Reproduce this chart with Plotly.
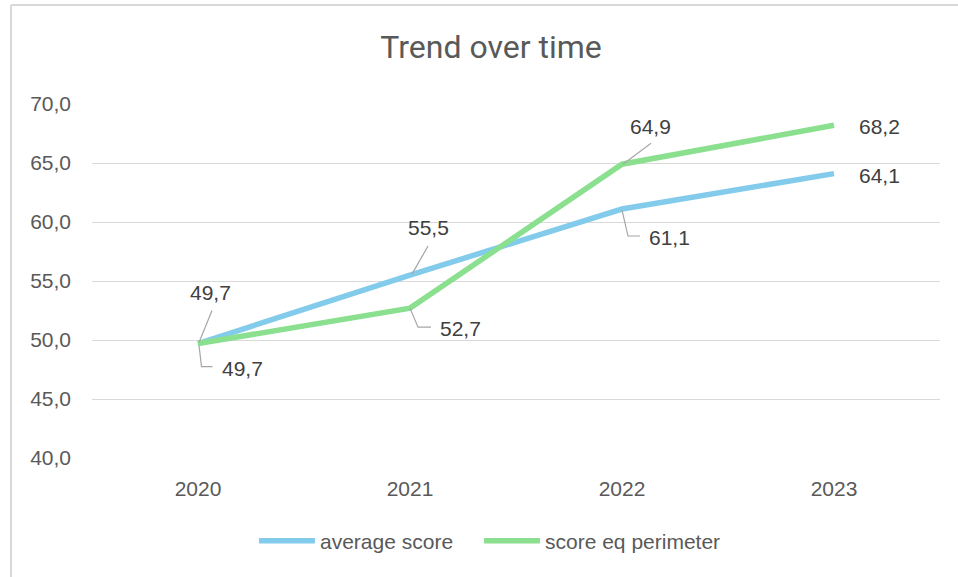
import plotly.graph_objects as go

# ---- data ----
years = ["2020", "2021", "2022", "2023"]
average_score = [49.7, 55.5, 61.1, 64.1]
score_eq_perimeter = [49.7, 52.7, 64.9, 68.2]
series_names = ["average score", "score eq perimeter"]
y_ticks = [40, 45, 50, 55, 60, 65, 70]

# ---- style ----
BLUE = "#83CBEB"
GREEN = "#8AE08E"
TEXT = "#595959"
GRID = "#D9D9D9"
LEADER = "#A6A6A6"
FONT = "Liberation Sans, Arial, sans-serif"

L, R, T, B = 92, 18, 104, 119
W, H = 958, 577
PW, PH = W - L - R, H - T - B

# label offsets (screen px, dx right, dy down) and leader paths (px, y up)
avg_label_off = [(12, -51), (18, -48), (47, 28), (45, 2)]
eq_label_off = [(44, 25), (50, 20), (28, -38), (45, 1)]
avg_leader = ["M1,1 L14,33", "M2,1 L18,29", "M0,-1 L6,-27 L18,-27", None]
eq_leader = ["M1,-2 L3.5,-23 L14.5,-23", "M0,0 L8,-19 L21,-19", "M1,0 L29,21", None]

fig = go.Figure()
fig.add_trace(go.Scatter(x=years, y=average_score, name=series_names[0], mode="lines",
                         line=dict(color=BLUE, width=5.5), legend="legend"))
fig.add_trace(go.Scatter(x=years, y=score_eq_perimeter, name=series_names[1], mode="lines",
                         line=dict(color=GREEN, width=5.5), legend="legend2"))

def fmt(v):
    return f"{v:.1f}".replace(".", ",")

annotations = []
shapes = []
for vals, offs, leaders in [(average_score, avg_label_off, avg_leader),
                            (score_eq_perimeter, eq_label_off, eq_leader)]:
    for i, (yr, v, (dx, dy), path) in enumerate(zip(years, vals, offs, leaders)):
        annotations.append(dict(x=i, y=v, xref="x", yref="y", text=fmt(v), showarrow=False,
                                xshift=dx, yshift=-dy, xanchor="center", yanchor="middle",
                                font=dict(family=FONT, size=21, color="#404040")))
        if path:
            shapes.append(dict(type="path", xref="x", yref="y", xsizemode="pixel",
                               ysizemode="pixel", xanchor=i, yanchor=v, path=path,
                               line=dict(color=LEADER, width=1.2)))

# chart border (left and top visible)
bx0 = (11 - L) / PW
by1 = (H - B - 5) / PH
shapes.append(dict(type="line", xref="paper", yref="paper", x0=bx0, x1=bx0, y0=by1,
                   y1=-(B + 10) / PH, line=dict(color=GRID, width=2)))
shapes.append(dict(type="line", xref="paper", yref="paper", x0=bx0, x1=(W + 10 - L) / PW,
                   y0=by1, y1=by1, line=dict(color=GRID, width=2)))

legend_common = dict(orientation="h", xanchor="left", xref="paper",
                     y=-(541 - (H - B)) / PH, yanchor="middle", yref="paper",
                     font=dict(family=FONT, size=21, color=TEXT), itemwidth=56,
                     bgcolor="rgba(0,0,0,0)")

fig.update_layout(
    width=W, height=H,
    margin=dict(l=L, r=R, t=T, b=B),
    paper_bgcolor="white", plot_bgcolor="white",
    separators=", ",
    title=dict(text="Trend over time", x=491 / W, xanchor="center", xref="container",
               y=1 - 47 / H, yanchor="middle", yref="container",
               font=dict(family="Roboto, sans-serif", size=32, color=TEXT)),
    xaxis=dict(type="category", range=[-0.5, 3.5], showgrid=False, zeroline=False,
               showline=False, ticks="", ticklabelstandoff=16,
               tickfont=dict(family=FONT, size=21, color=TEXT)),
    yaxis=dict(range=[40, 70], tickvals=y_ticks, tickformat=".1f", showgrid=True,
               gridcolor=GRID, gridwidth=1.3, zeroline=False, showline=False, ticks="",
               ticklabelstandoff=20,
               tickfont=dict(family=FONT, size=21, color=TEXT)),
    legend=dict(x=(262 - L - 8) / PW, **legend_common),
    legend2=dict(x=(487 - L - 8) / PW, **legend_common),
    annotations=annotations,
    shapes=shapes,
    showlegend=True,
)

fig.write_html("out.html", config={"displayModeBar": False},
               post_script="document.body.style.margin='0';")
